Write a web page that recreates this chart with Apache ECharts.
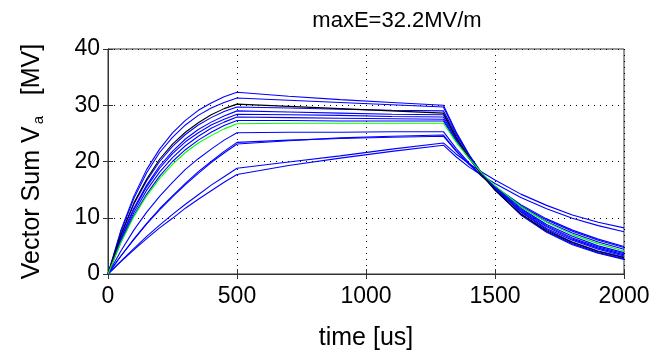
<!DOCTYPE html>
<html>
<head>
<meta charset="utf-8">
<script src="https://cdn.jsdelivr.net/npm/echarts@6/dist/echarts.min.js"></script>
<style>
html,body{margin:0;padding:0;background:#fff;}
#c{width:659px;height:357px;}
</style>
</head>
<body>
<div id="c"></div>
<script>
const titleText = 'maxE=32.2MV/m';
const xTicks = [0, 500, 1000, 1500, 2000];
const yTicks = [0, 10, 20, 30, 40];
const times = [0,50,100,150,200,250,300,350,400,450,500,700,900,1100,1300,1350,1400,1450,1500,1600,1700,1800,1900,2000];

const L1  = [0,7.8,13.8,18.6,22.2,25.1,27.3,29.1,30.4,31.5,32.3, 31.6,31.0,30.5,30.0, 25.2,21.2,17.8,14.9,10.5,7.4,5.2,3.7,2.6];
const L2  = [0,7.5,13.4,18.0,21.6,24.3,26.5,28.2,29.5,30.5,31.3, 30.9,30.5,30.1,29.7, 25.0,21.1,17.8,15.0,10.6,7.5,5.4,3.8,2.7];
const L3k = [0,7.0,12.6,16.9,20.4,23.1,25.2,26.9,28.3,29.4,30.2, 29.8,29.4,29.0,28.6, 24.3,20.6,17.5,14.9,10.7,7.7,5.6,4.0,2.9];
const L4  = [0,6.9,12.4,16.6,20.0,22.7,24.8,26.5,27.8,28.9,29.7, 29.5,29.3,29.1,29.0, 24.7,21.0,17.8,15.2,11.0,7.9,5.7,4.1,3.0];
const L5  = [0,6.5,11.7,15.8,19.2,21.8,24.0,25.7,27.0,28.1,29.0, 28.8,28.6,28.4,28.3, 24.2,20.7,17.7,15.2,11.1,8.1,6.0,4.4,3.2];
const L6  = [0,6.3,11.4,15.5,18.8,21.4,23.5,25.1,26.5,27.5,28.4, 28.3,28.2,28.0,27.9, 24.0,20.7,17.8,15.3,11.3,8.4,6.2,4.6,3.4];
const L7  = [0,6.0,10.9,14.9,18.1,20.7,22.8,24.5,25.9,27.0,27.9, 27.8,27.7,27.6,27.5, 23.8,20.6,17.8,15.4,11.5,8.6,6.4,4.8,3.6];
const L8  = [0,5.7,10.4,14.2,17.4,20.0,22.1,23.8,25.2,26.4,27.3, 27.3,27.2,27.2,27.2, 23.6,20.5,17.8,15.5,11.7,8.8,6.7,5.0,3.8];
const L9g = [0,5.6,10.2,13.9,17.0,19.5,21.6,23.3,24.6,25.8,26.7, 26.8,26.8,26.8,26.8, 23.4,20.5,17.9,15.7,12.0,9.2,7.0,5.4,4.1];
const L10 = [0,4.1,7.8,11.0,13.8,16.3,18.6,20.5,22.2,23.8,25.1, 25.2,25.2,25.3,25.3, 22.3,19.7,17.4,15.4,12.0,9.3,7.3,5.7,4.4];
const L11 = [0,3.2,6.1,8.9,11.4,13.7,15.9,17.9,19.8,21.5,23.1, 23.7,24.2,24.5,24.7, 21.9,19.5,17.3,15.4,12.1,9.6,7.6,6.0,4.7];
const L12 = [0,3.2,6.2,9.0,11.6,13.9,16.1,18.2,20.0,21.8,23.4, 23.8,24.1,24.3,24.5, 21.8,19.5,17.4,15.5,12.3,9.8,7.8,6.2,4.9];
const L13 = [0,2.3,4.5,6.7,8.7,10.6,12.4,14.1,15.8,17.3,18.8, 19.9,21.0,22.2,23.3, 21.3,19.6,18.1,16.7,14.2,12.2,10.5,9.2,8.2];
const L14 = [0,2.2,4.3,6.3,8.2,9.9,11.7,13.3,14.8,16.3,17.7, 19.3,20.6,21.8,22.9, 20.8,19.0,17.5,16.1,13.6,11.6,9.9,8.6,7.5];

const blueLines = [L1, L2, L4, L5, L6, L7, L8, L10, L11, L12, L13, L14];
const blackLines = [L3k];
const greenLines = [L9g];

const FONT = "'Liberation Sans', Arial, sans-serif";
function pairs(vals){ return times.map((t,i)=>[t, vals[i]]); }
function mk(vals, color){
  return {type:'line', data: pairs(vals), showSymbol:false, symbol:'none', smooth:false,
    lineStyle:{color: color, width:1.1}, itemStyle:{color: color}, silent:true, xAxisIndex:0, yAxisIndex:0};
}
const series = [];
blueLines.forEach(v=>series.push(mk(v,'#0000ff')));
blackLines.forEach(v=>series.push(mk(v,'#000000')));
greenLines.forEach(v=>series.push(mk(v,'#00ff00')));

const gridLine = {show:true, lineStyle:{color:'#000', width:1, type:[1,5]}};
const plain = v => String(v);
const chart = echarts.init(document.getElementById('c'), null, {renderer:'canvas'});
chart.setOption({
  animation:false,
  backgroundColor:'#fff',
  title:{text:titleText, left:392, top:5, textAlign:'center',
    textStyle:{fontFamily:FONT, fontSize:22, fontWeight:'normal', color:'#000'}},
  grid:{left:108, right:35, top:49, bottom:83, show:true, borderColor:'#333', borderWidth:1},
  xAxis:[{type:'value', min:xTicks[0], max:xTicks[xTicks.length-1], interval:500,
    name:'time [us]', nameLocation:'middle', nameGap:52,
    nameTextStyle:{fontFamily:FONT, fontSize:25, color:'#000'},
    axisLine:{show:true, lineStyle:{color:'#333'}},
    axisTick:{show:true, inside:true, length:5, lineStyle:{color:'#333'}},
    axisLabel:{fontFamily:FONT, fontSize:23, color:'#000', margin:11, formatter:plain},
    splitLine:gridLine},
   {type:'value', position:'top', min:xTicks[0], max:xTicks[xTicks.length-1], interval:500,
    axisLine:{show:true, lineStyle:{color:'#333'}},
    axisTick:{show:true, inside:true, length:5, lineStyle:{color:'#333'}},
    axisLabel:{show:false}, splitLine:{show:false}}],
  yAxis:[{type:'value', min:yTicks[0], max:yTicks[yTicks.length-1], interval:10,
    name:'{n|Vector Sum V}{s|a}{n|   [MV]}', nameLocation:'middle', nameGap:62, nameRotate:90,
    nameTextStyle:{fontFamily:FONT, fontSize:25, color:'#000',
      rich:{n:{fontFamily:FONT, fontSize:25, color:'#000'},
            s:{fontFamily:FONT, fontSize:15, color:'#000', verticalAlign:'bottom', padding:[13,0,0,2]}}},
    axisLine:{show:true, lineStyle:{color:'#333'}},
    axisTick:{show:true, inside:true, length:5, lineStyle:{color:'#333'}},
    axisLabel:{fontFamily:FONT, fontSize:23, color:'#000', margin:8, formatter:plain},
    splitLine:gridLine},
   {type:'value', position:'right', min:yTicks[0], max:yTicks[yTicks.length-1], interval:10,
    axisLine:{show:true, lineStyle:{color:'#333'}},
    axisTick:{show:true, inside:true, length:5, lineStyle:{color:'#333'}},
    axisLabel:{show:false}, splitLine:{show:false}}],
  series: series
});
</script>
</body>
</html>
